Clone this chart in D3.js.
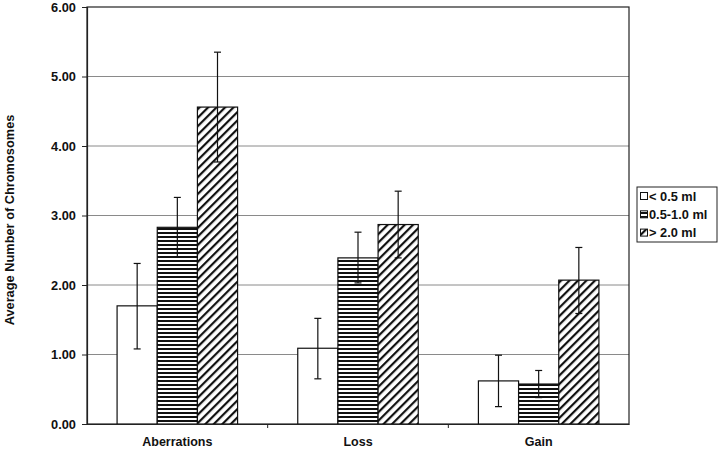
<!DOCTYPE html>
<html><head><meta charset="utf-8">
<script src="https://cdn.jsdelivr.net/npm/d3@7"></script>
<style>body{margin:0;background:#fff}svg{display:block}text{font-family:"Liberation Sans",Arial,sans-serif;font-weight:bold}</style>
</head><body><svg id="c" width="720" height="451"></svg>
<script>
const categories = ["Aberrations","Loss","Gain"];
const seriesNames = ["< 0.5 ml","0.5-1.0 ml","> 2.0 ml"];
const small = [1.70, 1.09, 0.62];
const smallLo = [1.08, 0.65, 0.25];
const smallHi = [2.31, 1.52, 0.99];
const mid = [2.83, 2.39, 0.575];
const midLo = [2.40, 2.03, 0.38];
const midHi = [3.26, 2.76, 0.77];
const large = [4.56, 2.87, 2.07];
const largeLo = [3.77, 2.39, 1.59];
const largeHi = [5.35, 3.35, 2.54];
const yTicks = [0,1,2,3,4,5,6];
const yTitle = "Average Number of Chromosomes";

const series = [
  {name: seriesNames[0], v: small, lo: smallLo, hi: smallHi, fill: "#fff"},
  {name: seriesNames[1], v: mid, lo: midLo, hi: midHi, fill: "url(#hz)"},
  {name: seriesNames[2], v: large, lo: largeLo, hi: largeHi, fill: "url(#dg)"}
];

const svg = d3.select("#c");
const L = 87, R = 629, T = 7, B = 424;
const defs = svg.append("defs");
const hz = defs.append("pattern").attr("id","hz").attr("patternUnits","userSpaceOnUse").attr("width",8).attr("height",4);
hz.append("rect").attr("width",8).attr("height",4).attr("fill","#fff");
hz.append("rect").attr("y",0).attr("width",8).attr("height",2).attr("fill","#111");
const dg = defs.append("pattern").attr("id","dg").attr("patternUnits","userSpaceOnUse").attr("width",6).attr("height",6).attr("patternTransform","rotate(45)");
dg.append("rect").attr("width",6).attr("height",6).attr("fill","#fff");
dg.append("rect").attr("x",0).attr("width",2.2).attr("height",6).attr("fill","#111");

const y = d3.scaleLinear().domain([0,6]).range([B,T]);
const x0 = d3.scaleBand().domain(categories).range([L,R]).paddingInner(0.333).paddingOuter(0.1665);
const x1 = d3.scaleBand().domain(d3.range(3)).range([0, x0.bandwidth()]);

// gridlines
svg.append("g").selectAll("line").data(yTicks.filter(d=>d>0 && d<6)).join("line")
  .attr("x1",L).attr("x2",R).attr("y1",d=>y(d)).attr("y2",d=>y(d)).attr("stroke","#8a8a8a").attr("stroke-width",1);

// frame
svg.append("rect").attr("x",L).attr("y",T).attr("width",R-L).attr("height",B-T).attr("fill","none").attr("stroke","#222").attr("stroke-width",1.2);

// bars
const g = svg.append("g");
series.forEach((s,si)=>{
  g.selectAll(null).data(categories).join("rect")
    .attr("x",c=>x0(c)+x1(si)).attr("y",(c,i)=>y(s.v[i]))
    .attr("width",x1.bandwidth()).attr("height",(c,i)=>B-y(s.v[i]))
    .attr("fill",s.fill).attr("stroke","#111").attr("stroke-width",1.2);
});
// error bars
series.forEach((s,si)=>{
  const cx = c=>x0(c)+x1(si)+x1.bandwidth()/2;
  const eg = svg.append("g").attr("stroke","#111").attr("stroke-width",1.2);
  eg.selectAll(null).data(categories).join("line")
    .attr("x1",cx).attr("x2",cx).attr("y1",(c,i)=>y(s.hi[i])).attr("y2",(c,i)=>y(s.lo[i]));
  ["hi","lo"].forEach(k=>{
    eg.selectAll(null).data(categories).join("line")
      .attr("x1",c=>cx(c)-3.5).attr("x2",c=>cx(c)+3.5).attr("y1",(c,i)=>y(s[k][i])).attr("y2",(c,i)=>y(s[k][i]));
  });
});

// y axis
const ya = svg.append("g").attr("transform",`translate(${L},0)`).call(d3.axisLeft(y).tickValues(yTicks).tickFormat(d3.format(".2f")).tickSize(5).tickPadding(6));
ya.select(".domain").attr("stroke","#222").attr("stroke-width",1.2);
ya.selectAll(".tick line").attr("stroke","#222");
ya.selectAll("text").attr("font-size",12.8).attr("fill","#111").style("font-family","Liberation Sans, Arial").style("font-weight","bold");

// x axis
const xa = svg.append("g").attr("transform",`translate(0,${B})`).call(d3.axisBottom(x0).tickSize(0).tickPadding(13));
xa.select(".domain").attr("stroke","#222").attr("stroke-width",1.2);
xa.selectAll("text").attr("font-size",12.5).attr("fill","#111").style("font-family","Liberation Sans, Arial").style("font-weight","bold");
const step = (R-L)/3;
svg.append("g").selectAll("line").data([1,2]).join("line")
  .attr("x1",d=>L+d*step).attr("x2",d=>L+d*step).attr("y1",B).attr("y2",B+4).attr("stroke","#222");

// y title
svg.append("text").attr("transform","translate(14,220) rotate(-90)").attr("text-anchor","middle")
  .attr("font-size",12.8).attr("fill","#111").text(yTitle);

// legend
const lg = svg.append("g");
lg.append("rect").attr("x",637).attr("y",187).attr("width",80).attr("height",55).attr("fill","#fff").attr("stroke","#222").attr("stroke-width",1);
series.forEach((s,i)=>{
  const yy = 196 + i*18.3;
  lg.append("rect").attr("x",640.5).attr("y",yy-3.5).attr("width",7).attr("height",7).attr("fill",s.fill).attr("stroke","#111").attr("stroke-width",1);
  lg.append("text").attr("x",649).attr("y",yy+4.5).attr("font-size",12.8).attr("fill","#111").text(s.name);
});
</script></body></html>
